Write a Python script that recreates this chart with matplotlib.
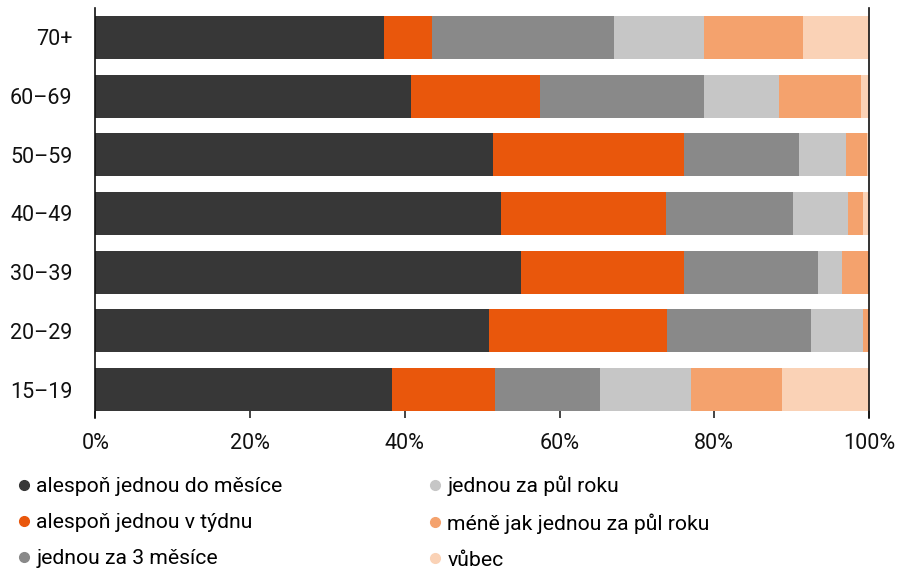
import matplotlib
matplotlib.use("Agg")
import matplotlib.pyplot as plt
from matplotlib.lines import Line2D
import numpy as np

plt.rcParams['font.family'] = ['Roboto', 'DejaVu Sans']

groups = ["15–19", "20–29", "30–39", "40–49", "50–59", "60–69", "70+"]
labels = ["alespoň jednou do měsíce", "alespoň jednou v týdnu", "jednou za 3 měsíce",
          "jednou za půl roku", "méně jak jednou za půl roku", "vůbec"]
colors = ["#373737", "#E9570C", "#898989", "#C6C6C6", "#F4A26D", "#FAD2B6"]

# shares in %, one list per answer, ordered like groups
monthly   = [38.3, 50.9, 55.0, 52.4, 51.4, 40.8, 37.3]
weekly    = [13.4, 23.0, 21.1, 21.4, 24.7, 16.7, 6.2]
quarterly = [13.5, 18.6, 17.3, 16.4, 14.9, 21.2, 23.5]
halfyear  = [11.8, 6.7, 3.1, 7.1, 6.0, 9.7, 11.7]
rarely    = [11.8, 0.8, 3.5, 1.9, 2.8, 10.6, 12.8]
never     = [11.2, 0.0, 0.0, 0.8, 0.2, 1.0, 8.5]
series = [monthly, weekly, quarterly, halfyear, rarely, never]

fig = plt.figure(figsize=(8.99, 5.76), dpi=100)
ax = fig.add_axes([0.106, 0.2865, 0.8606, 0.6995])

y = np.arange(len(groups))
left = np.zeros(len(groups))
for vals, col, lab in zip(series, colors, labels):
    ax.barh(y, vals, left=left, height=0.73, color=col, label=lab, linewidth=0)
    left += np.array(vals)

ax.set_xlim(0, 100)
ax.set_ylim(-0.365, 6.5)
ax.set_yticks(y)
ax.set_yticklabels(groups)
ax.set_xticks([0, 20, 40, 60, 80, 100])
ax.set_xticklabels(["0%", "20%", "40%", "60%", "80%", "100%"])
ax.tick_params(axis='y', length=0, pad=16.5, labelsize=15.5, labelcolor="#111111")
ax.tick_params(axis='x', length=5, width=1.1, pad=11, labelsize=15.5, labelcolor="#111111", color="#111111")

for s in ["top", "bottom"]:
    ax.spines[s].set_visible(False)
for s in ["left", "right"]:
    ax.spines[s].set_linewidth(1.2)
    ax.spines[s].set_color("#111111")
    ax.spines[s].set_bounds(-0.49, 6.5)

handles = [Line2D([], [], marker='o', linestyle='', color=c, markersize=7) for c in colors]
fig.legend(handles, labels, ncol=2, loc='upper left', bbox_to_anchor=(0.017, 0.174),
           frameon=False, fontsize=15.2, handletextpad=0.2, handlelength=0.8,
           columnspacing=6.8, labelspacing=0.8, borderaxespad=0, borderpad=0)

fig.savefig("out.png", dpi=100)
